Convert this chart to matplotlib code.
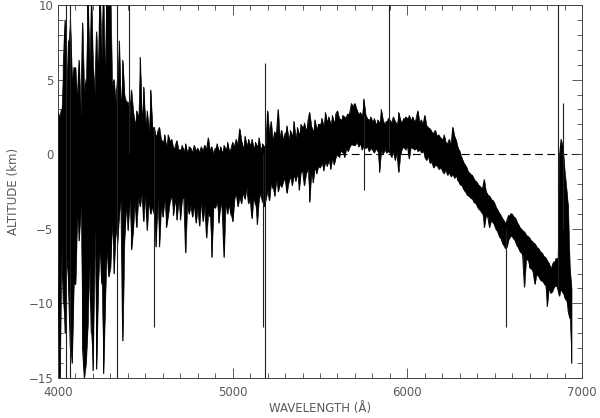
import numpy as np
import matplotlib
matplotlib.use("Agg")
import matplotlib.pyplot as plt
from matplotlib.ticker import MultipleLocator

# sampling grid of the spectrum, 10 A step
wavelength = np.arange(4000, 6941, 10)

# upper / lower excursion of the trace in each 10 A bin (km)
alt_high = [
    2.8, 2.5, 3.0, 6.0, 9.0, 4.0, 7.6, 9.0, 5.0, 5.8,
    5.8, 3.5, 6.3, 2.5, 8.8, 4.0, 5.0, 11, 6.0, 11,
    6.0, 4.0, 8.2, 5.0, 11, 6.3, 11, 4.5, 11, 11,
    11, 4.5, 5.0, 3.5, 5.0, 7.6, 3.0, 6.3, 4.0, 3.5,
    3.5, 2.5, 4.3, 2.9, 2.0, 2.9, 2.5, 6.5, 2.2, 4.5,
    2.0, 2.9, 1.5, 4.3, 1.8, 1.8, 1.2, 1.5, 1.8, 1.0,
    0.8, 1.3, 0.5, 1.3, 0.9, 1.0, 0.4, 0.5, 0.9, 0.3,
    0.3, 0.6, 0.2, 0.7, 0.1, 0.5, 0.4, 0.1, 0.6, 0.2,
    0.4, 0.1, 0.5, 0.2, 0.6, 0.3, 1.1, 0.2, 0.5, 0.0,
    0.4, 0.7, 0.2, 0.5, 0.1, 0.6, 0.3, 0.8, 0.2, 0.4,
    0.8, 0.5, 1.0, 0.6, 1.7, 0.9, 0.4, 1.2, 0.6, 1.0,
    0.6, 1.0, 0.4, 0.8, 0.5, 1.1, 0.3, 0.7, 0.5, 0.8,
    2.9, 1.2, 2.2, 0.8, 1.5, 1.3, 3.0, 1.0, 1.6, 0.9,
    1.4, 1.9, 1.0, 1.6, 1.2, 2.2, 1.1, 1.8, 1.3, 2.0,
    1.8, 2.1, 1.6, 2.2, 2.8, 1.9, 1.5, 2.3, 1.7, 2.0,
    2.0, 2.4, 1.9, 2.8, 2.2, 2.5, 2.0, 2.6, 2.1, 2.7,
    2.9, 2.4, 2.3, 2.6, 2.5, 2.5, 2.7, 2.8, 3.4, 3.2,
    3.4, 3.0, 2.7, 2.8, 2.6, 3.7, 2.7, 2.4, 2.3, 2.5,
    2.2, 2.4, 2.0, 2.3, 2.1, 3.0, 2.3, 2.0, 2.2, 2.4,
    2.3, 2.1, 2.5, 2.2, 2.0, 2.8, 2.3, 2.1, 2.4, 2.5,
    2.4, 2.6, 2.3, 2.5, 2.2, 2.4, 2.9, 2.1, 2.3, 2.0,
    2.6, 1.9, 1.8, 1.7, 1.5, 1.4, 1.6, 1.2, 1.3, 1.1,
    1.0, 1.3, 0.8, 0.7, 1.0, 0.6, 1.8, 1.2, 0.9, 0.4,
    0.2, -0.2, -0.5, -0.7, -0.9, -1.2, -1.3, -1.4, -1.6, -1.8,
    -1.9, -2.1, -2.2, -2.3, -1.7, -2.5, -2.7, -2.8, -3.0, -3.1,
    -3.3, -3.6, -3.8, -4.0, -4.2, -4.4, -4.6, -4.4, -4.1, -4.0,
    -4.0, -4.2, -4.3, -4.6, -4.8, -5.0, -5.1, -5.2, -5.4, -5.5,
    -5.6, -5.8, -5.9, -6.0, -6.2, -6.3, -6.5, -6.6, -6.8, -6.9,
    -7.1, -7.3, -7.6, -7.4, -7.2, -7.0, -7.0, -0.2, 1.0, 0.5,
    -1.0, -2.2, -3.5, -7.6, -9.0,
]
alt_low = [
    -8, -16, -6, -10, -12, -7, -9, -13, -14, -8.7,
    -8.7, -4.0, -5.8, -3.5, -13, -15, -14, -11.5, -7, -12,
    -14.5, -5, -14.4, -8.7, -6, -8.7, -14.7, -9.8, -6, -8.2,
    -7.6, -4.5, -8.0, -5.0, -6.0, -4.0, -3.0, -12.5, -5.8, -3.5,
    -5.1, -3.0, -6.4, -5.1, -3.0, -4.9, -2.8, -3.5, -2.5, -4.5,
    -2.5, -5.1, -3.0, -4.0, -3.5, -4.0, -6.2, -3.0, -6.2, -3.5,
    -4.2, -3.0, -4.9, -4.1, -3.2, -2.8, -4.1, -3.0, -4.4, -3.1,
    -4.4, -3.0, -2.9, -6.6, -3.2, -4.0, -3.4, -4.2, -3.3, -4.6,
    -3.5, -4.8, -3.0, -4.5, -3.4, -5.6, -3.9, -4.2, -6.9, -3.5,
    -3.6, -3.2, -4.6, -3.3, -3.8, -6.9, -3.1, -4.0, -3.3, -4.1,
    -4.5, -3.0, -2.6, -3.5, -2.8, -3.3, -2.5, -3.0, -2.2, -3.3,
    -3.0, -4.3, -2.8, -3.4, -4.7, -3.0, -2.6, -3.2, -3.5, -3.0,
    -2.4, -3.1, -1.9, -2.3, -2.8, -1.7, -2.5, -2.0, -2.2, -1.8,
    -1.6, -2.6, -1.9, -1.5, -2.1, -1.4, -1.8, -1.3, -2.4, -1.2,
    -1.1, -2.1, -1.3, -1.0, -3.2, -1.2, -1.9, -0.9, -1.3, -0.8,
    -0.9, -0.6, -1.1, -0.5, -0.8, -0.4, -1.0, -0.3, -0.7, -0.2,
    0.0, -0.2, 0.3, 0.1, -0.2, 0.4, 0.2, 0.5, 0.7, 0.6,
    0.6, 0.8, 0.5, 0.7, 0.3, 0.6, 0.4, 0.5, 0.2, 0.4,
    0.3, 0.1, 0.4, 0.2, -1.2, 0.3, 0.0, 0.3, 0.1, 0.2,
    0.1, -0.2, 0.3, -0.4, 0.2, -1.2, 0.0, 0.4, 0.5, 0.3,
    0.6, -0.3, 0.5, 0.4, 0.3, 0.4, 0.2, 0.3, 0.1, 0.2,
    -0.2, -0.4, -0.1, -0.6, -0.5, -0.9, -0.7, -0.8, -1.0, -0.9,
    -1.1, -1.3, -1.0, -1.4, -1.2, -1.5, -1.3, -1.6, -1.4, -1.8,
    -2.0, -2.1, -2.3, -2.5, -2.7, -2.8, -2.9, -3.0, -3.2, -3.3,
    -3.5, -3.7, -3.8, -4.0, -4.9, -4.1, -4.2, -4.9, -4.4, -4.6,
    -4.8, -5.1, -5.3, -5.6, -5.8, -6.1, -6.3, -6.2, -5.7, -5.5,
    -5.5, -5.7, -5.9, -6.2, -6.4, -6.6, -6.8, -8.9, -7.0, -7.1,
    -7.6, -7.7, -7.9, -8.7, -8.0, -8.2, -8.4, -8.5, -8.6, -8.8,
    -10.2, -9.0, -9.3, -9.2, -8.9, -8.8, -9.0, -9.5, -9.0, -9.3,
    -9.6, -9.8, -10.5, -11.0, -14.0,
]

# isolated narrow lines (wavelength, bottom, top)
spike_wave = [4045, 4068, 4338, 4406, 4550, 5172, 5185, 5752, 5895, 6565, 6862, 6891]
spike_low = [-16, -16, -16, 0.0, -11.6, -11.6, -16, -2.4, 0.3, -11.6, -9.0, -5.0]
spike_high = [11, 11, 11, 11, 1.8, 0.0, 6.1, 2.6, 11, -5.0, 11, 3.4]

x_ticks = [4000, 5000, 6000, 7000]
y_ticks = [-15, -10, -5, 0, 5, 10]

# continuous trace running up and down inside every bin
pairs = np.column_stack([alt_high, alt_low])
pairs[1::2] = pairs[1::2, ::-1]
trace_x = np.repeat(wavelength, 2)
trace_y = pairs.ravel()

grey = '#5a5a5a'
plt.rcParams['font.family'] = ['DejaVu Sans']

fig = plt.figure(figsize=(6.0, 4.18), dpi=100)
ax = fig.add_axes([0.0967, 0.0957, 0.8733, 0.8923])

ax.axhline(0, color='black', lw=0.8, dashes=(7, 4), zorder=1)
ax.fill_between(wavelength, alt_low, alt_high, color='black', lw=0.4, zorder=2)
ax.plot(trace_x, trace_y, color='black', lw=0.6, zorder=3)
ax.vlines(spike_wave, spike_low, spike_high, color='#202020', lw=0.8, zorder=3)

ax.set_xlim(4000, 7000)
ax.set_ylim(-15, 10)
ax.set_xticks(x_ticks)
ax.set_yticks(y_ticks)
ax.xaxis.set_minor_locator(MultipleLocator(100))
ax.yaxis.set_minor_locator(MultipleLocator(1))
ax.tick_params(which='both', direction='in', top=True, right=True,
               color='#404040', width=0.6, labelcolor=grey, labelsize=8.5)
ax.tick_params(which='major', length=7)
ax.tick_params(which='minor', length=3.5)
ax.tick_params(axis='x', pad=6)
for s in ax.spines.values():
    s.set_color('#404040')
    s.set_linewidth(0.7)

ax.set_xlabel('WAVELENGTH (Å)', color=grey, fontsize=8.5, labelpad=2)
ax.set_ylabel('ALTITUDE (km)', color=grey, fontsize=8.5, labelpad=6)

fig.savefig('out.png', dpi=100)
